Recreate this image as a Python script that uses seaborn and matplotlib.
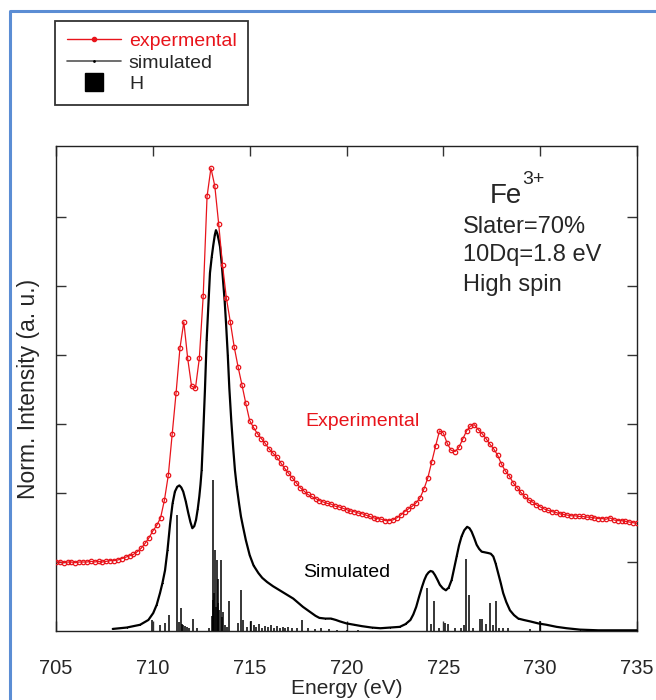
import numpy as np
import pandas as pd
import matplotlib
matplotlib.use("Agg")
import matplotlib.pyplot as plt
from matplotlib.lines import Line2D
import seaborn as sns

# Experimental Fe L-edge XAS (normalised intensity, axis units)
exp_energy = np.round(np.arange(705.0, 735.0001, 0.2), 1)
exp_intensity = [
    1.00, 1.00, 0.99, 1.00, 1.00, 0.99, 1.00, 1.00, 1.00, 1.01,
    1.00, 1.01, 1.00, 1.01, 1.02, 1.02, 1.03, 1.05, 1.07, 1.09,
    1.11, 1.15, 1.20, 1.27, 1.35, 1.45, 1.53, 1.64, 1.90, 2.26,
    2.85, 3.45, 4.10, 4.48, 3.95, 3.55, 3.52, 3.95, 4.85, 6.30,
    6.71, 6.45, 5.90, 5.30, 4.82, 4.48, 4.12, 3.83, 3.57, 3.30,
    3.05, 2.95, 2.86, 2.79, 2.72, 2.64, 2.58, 2.52, 2.44, 2.36,
    2.29, 2.22, 2.15, 2.08, 2.03, 1.98, 1.95, 1.92, 1.89, 1.87,
    1.85, 1.84, 1.81, 1.80, 1.78, 1.76, 1.74, 1.73, 1.71, 1.70,
    1.68, 1.66, 1.64, 1.63, 1.62, 1.60, 1.60, 1.61, 1.64, 1.68,
    1.73, 1.77, 1.81, 1.86, 1.93, 2.06, 2.22, 2.45, 2.68, 2.90,
    2.87, 2.72, 2.62, 2.60, 2.66, 2.78, 2.90, 2.97, 2.99, 2.92,
    2.86, 2.79, 2.71, 2.64, 2.55, 2.42, 2.32, 2.25, 2.15, 2.08,
    2.01, 1.95, 1.90, 1.87, 1.83, 1.80, 1.77, 1.75, 1.73, 1.72,
    1.70, 1.69, 1.68, 1.67, 1.67, 1.66, 1.66, 1.65, 1.65, 1.64,
    1.63, 1.63, 1.62, 1.64, 1.61, 1.60, 1.60, 1.59, 1.58, 1.57,
    1.56,
]

# Simulated (broadened multiplet) spectrum
sim_energy = [
    707.93, 708.65, 709.34, 709.77, 710.02, 710.20, 710.37, 710.50, 710.63, 710.76,
    710.89, 711.02, 711.14, 711.26, 711.37, 711.47, 711.57, 711.70, 711.83, 711.94,
    712.04, 712.14, 712.23, 712.32, 712.40, 712.46, 712.52, 712.60, 712.69, 712.78,
    712.87, 712.95, 713.04, 713.12, 713.20, 713.26, 713.33, 713.40, 713.47, 713.55,
    713.64, 713.71, 713.78, 713.87, 713.95, 714.05, 714.15, 714.24, 714.33, 714.45,
    714.55, 714.65, 714.80, 715.00, 715.20, 715.45, 715.65, 715.90, 716.20, 716.55,
    716.90, 717.25, 717.50, 717.75, 718.00, 718.20, 718.40, 718.60, 718.90, 719.20,
    719.45, 719.65, 720.00, 720.40, 720.80, 721.30, 721.75, 722.25, 722.75, 723.05,
    723.30, 723.45, 723.60, 723.75, 723.90, 724.02, 724.13, 724.24, 724.34, 724.45,
    724.57, 724.70, 724.82, 724.97, 725.13, 725.28, 725.43, 725.55, 725.68, 725.81,
    725.94, 726.08, 726.23, 726.35, 726.46, 726.59, 726.72, 726.85, 726.98, 727.15,
    727.32, 727.45, 727.58, 727.70, 727.83, 727.96, 728.09, 728.25, 728.44, 728.65,
    728.87, 729.15, 729.47, 729.90, 730.33, 730.85, 731.37, 732.05, 733.00, 734.00,
    735.00,
]
sim_intensity = [
    0.03, 0.05, 0.09, 0.16, 0.26, 0.38, 0.55, 0.70, 0.88, 1.18,
    1.55, 1.85, 2.02, 2.09, 2.11, 2.08, 2.02, 1.88, 1.71, 1.58,
    1.49, 1.52, 1.61, 1.77, 1.95, 2.12, 2.33, 2.85, 3.49, 4.22,
    4.75, 5.19, 5.42, 5.59, 5.74, 5.81, 5.76, 5.67, 5.57, 5.35,
    5.04, 4.78, 4.46, 4.00, 3.52, 3.05, 2.65, 2.33, 2.10, 1.85,
    1.66, 1.52, 1.32, 1.10, 0.95, 0.84, 0.77, 0.71, 0.65, 0.59,
    0.53, 0.47, 0.41, 0.35, 0.30, 0.26, 0.22, 0.19, 0.18, 0.18,
    0.16, 0.14, 0.11, 0.09, 0.07, 0.05, 0.04, 0.05, 0.06, 0.10,
    0.16, 0.24, 0.35, 0.50, 0.64, 0.74, 0.81, 0.85, 0.87, 0.86,
    0.81, 0.74, 0.67, 0.62, 0.59, 0.63, 0.74, 0.90, 1.08, 1.24,
    1.37, 1.46, 1.51, 1.49, 1.44, 1.35, 1.25, 1.19, 1.15, 1.14,
    1.13, 1.12, 1.08, 0.98, 0.84, 0.70, 0.55, 0.42, 0.30, 0.23,
    0.18, 0.16, 0.14, 0.11, 0.09, 0.06, 0.04, 0.02, 0.01, 0.01,
    0.01,
]

# Multiplet transitions (stick spectrum, H)
stick_energy = [
    709.94, 710.35, 710.63, 710.85, 711.26, 711.37, 711.44, 711.52, 711.58, 711.65,
    711.75, 711.85, 712.09, 712.30, 712.90, 713.03, 713.09, 713.13, 713.18, 713.21,
    713.25, 713.30, 713.34, 713.38, 713.44, 713.50, 713.55, 713.60, 713.72, 713.82,
    713.93, 714.41, 714.53, 714.67, 714.85, 715.05, 715.20, 715.35, 715.50, 715.65,
    715.80, 715.95, 716.10, 716.25, 716.40, 716.55, 716.70, 716.85, 717.00, 717.20,
    717.45, 717.72, 718.00, 718.35, 718.70, 719.10, 719.50, 720.00, 720.60,
    724.17, 724.34, 724.53, 724.80, 725.08, 725.22, 725.60, 725.90, 726.08, 726.17,
    726.34, 726.55, 726.90, 727.00, 727.20, 727.41, 727.55, 727.70, 727.85, 728.10,
    728.35, 729.50, 729.99,
]
stick_height = [
    0.16, 0.08, 0.12, 0.23, 1.68, 0.13, 0.33, 0.10, 0.08, 0.07,
    0.06, 0.05, 0.18, 0.05, 0.05, 0.22, 2.19, 0.45, 0.55, 1.17,
    0.35, 1.03, 0.40, 0.76, 0.30, 1.03, 0.20, 0.28, 0.08, 0.06,
    0.43, 0.11, 0.60, 0.16, 0.06, 0.15, 0.08, 0.06, 0.10, 0.05,
    0.07, 0.06, 0.09, 0.05, 0.07, 0.04, 0.06, 0.05, 0.06, 0.04,
    0.05, 0.16, 0.04, 0.03, 0.05, 0.03, 0.02, 0.02, 0.02,
    0.62, 0.10, 0.44, 0.05, 0.12, 0.10, 0.04, 0.05, 0.08, 1.04,
    0.52, 0.04, 0.18, 0.17, 0.10, 0.41, 0.08, 0.43, 0.05, 0.05,
    0.04, 0.03, 0.15,
]

x_ticks = [705, 710, 715, 720, 725, 730, 735]

sns.set_style("ticks")
plt.rcParams["font.family"] = ["Liberation Sans", "DejaVu Sans"]

fig = plt.figure(figsize=(6.56, 7.0), dpi=100)
ax = fig.add_axes([56 / 656, 1 - 631 / 700, 581 / 656, 485 / 700])

exp_df = pd.DataFrame({"energy": exp_energy, "intensity": exp_intensity})
sim_df = pd.DataFrame({"energy": sim_energy, "intensity": sim_intensity})

# stick spectrum
ax.vlines(stick_energy, 0, stick_height, color="black", lw=1.1, zorder=2)

sns.lineplot(data=sim_df, x="energy", y="intensity", ax=ax, color="black",
             lw=1.6, marker=".", markersize=1.5, markeredgewidth=0, zorder=3)
sns.lineplot(data=exp_df, x="energy", y="intensity", ax=ax, color="#e8141b",
             lw=0.9, marker="o", markersize=3.2, markerfacecolor="none",
             markeredgecolor="#e8141b", markeredgewidth=0.9, zorder=4)

ax.set_xlim(705, 735)
ax.set_ylim(0, 7.03)
ax.set_xticks(x_ticks)
ax.set_xticklabels([str(t) for t in x_ticks], fontsize=14.5)
ax.set_yticks([1, 2, 3, 4, 5, 6])
ax.set_yticklabels([])
ax.tick_params(axis="both", direction="in", length=7, width=1, top=True, right=True,
               color="#333333")
ax.tick_params(axis="x", pad=20)
ax.set_xlabel("Energy (eV)", fontsize=15, labelpad=1)
ax.set_ylabel("Norm. Intensity (a. u.)", fontsize=16.5, labelpad=8)
for sp in ax.spines.values():
    sp.set_linewidth(1.0)
    sp.set_color("#222222")

ax.text(717.9, 3.04, "Experimental", color="#e8141b", fontsize=14, va="center", ha="left")
ax.text(717.75, 0.855, "Simulated", color="black", fontsize=14, va="center", ha="left")

# parameter annotation
fig.text(490 / 656, 1 - 203 / 700, "Fe", fontsize=20, va="baseline", ha="left")
fig.text(522 / 656, 1 - 184 / 700, "3+", fontsize=14, va="baseline", ha="left")
for label, yb in [("Slater=70%", 233), ("10Dq=1.8 eV", 261), ("High spin", 291)]:
    fig.text(463 / 656, 1 - yb / 700, label, fontsize=17, va="baseline", ha="left")

# legend outside the axes
handles = [
    Line2D([], [], color="#e8141b", lw=1, marker="o", markersize=3,
           markerfacecolor="#e8141b", markeredgecolor="#e8141b"),
    Line2D([], [], color="#555555", lw=1.2, marker=".", markersize=2,
           markerfacecolor="black", markeredgecolor="black"),
    Line2D([], [], color="black", lw=0, marker="s", markersize=13),
]
leg = fig.legend(handles, ["expermental", "simulated", "H"], loc="upper left",
                 bbox_to_anchor=(55 / 656, 1 - 21 / 700), frameon=True, fancybox=False,
                 fontsize=14, handlelength=2.8, handletextpad=0.4, labelspacing=0.2,
                 borderpad=0.6, borderaxespad=0)
leg.get_frame().set_edgecolor("black")
leg.get_frame().set_linewidth(1.3)
leg.get_texts()[0].set_color("#e8141b")

# page frame
fig.add_artist(Line2D([10 / 656, 10 / 656, 1.0], [0.0, 1 - 11 / 700, 1 - 11 / 700],
                      transform=fig.transFigure, color="#5b8dd4", lw=2.2))

fig.savefig("out.png", dpi=100)
